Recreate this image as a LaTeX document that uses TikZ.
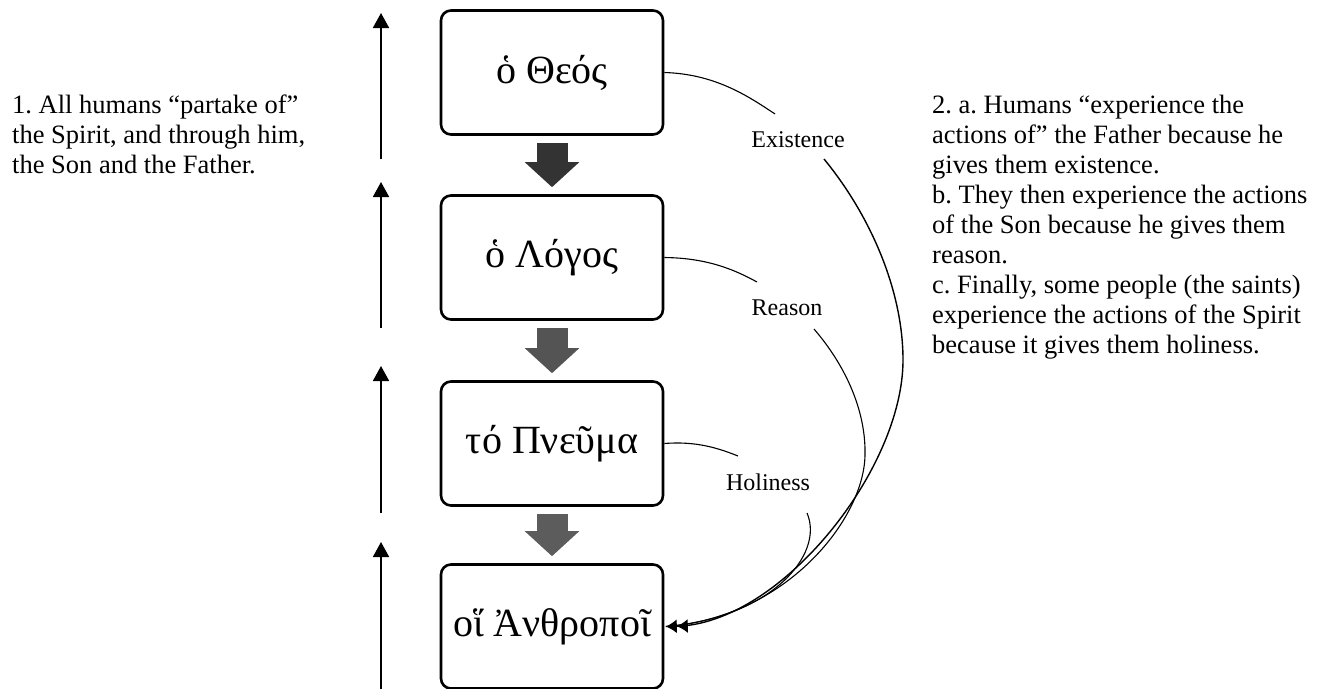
\documentclass[tikz,border=0pt]{standalone}
\usepackage{fontspec}
\setmainfont{Liberation Serif}
\frenchspacing
\usetikzlibrary{arrows.meta}
\definecolor{arrA}{gray}{0.2}
\definecolor{arrB}{gray}{0.33}
\definecolor{arrC}{gray}{0.36}
\tikzset{
  box/.style={draw, line width=2.6pt, rounded corners=10pt, minimum width=222pt, minimum height=124pt, inner sep=0pt, font=\fontsize{40}{44}\selectfont},
  blockarrow/.style={line width=31pt, -{Triangle[length=25pt,width=53pt]}},
  uparrow/.style={line width=1.8pt, -{Triangle[length=15pt,width=16pt]}},
  conn/.style={line width=1.1pt},
  lbl/.style={font=\fontsize{24}{28}\selectfont, inner sep=0pt},
  side/.style={font=\fontsize{26.5}{30}\selectfont\frenchspacing, align=left, inner sep=0pt, anchor=north west},
}
\begin{document}
\begin{tikzpicture}[x=1pt,y=-1pt]
\useasboundingbox (0,0) rectangle (1329,688);
% boxes
\node[box] (b1) at (552,72.5) {ὁ Θεός};
\node[box] (b2) at (552,257.5) {ὁ Λόγος};
\node[box] (b3) at (552,443.5) {τό Πνεῦμα};
\node[box] (b4) at (552,626.5) {οἵ Ἀνθροποῖ};
% block arrows
\draw[blockarrow, arrA] ([yshift=-7pt]b1.south) -- ([yshift=7pt]b2.north);
\draw[blockarrow, arrB] ([yshift=-7pt]b2.south) -- ([yshift=7pt]b3.north);
\draw[blockarrow, arrC] ([yshift=-7pt]b3.south) -- ([yshift=7pt]b4.north);
% left up arrows
\coordinate (u1a) at (381,159); \coordinate (u1b) at (381,13);
\coordinate (u2a) at (381,328); \coordinate (u2b) at (381,182);
\coordinate (u3a) at (381,513); \coordinate (u3b) at (381,366);
\coordinate (u4a) at (381,690); \coordinate (u4b) at (381,542);
\draw[uparrow] (u1a) -- (u1b);
\draw[uparrow] (u2a) -- (u2b);
\draw[uparrow] (u3a) -- (u3b);
\draw[uparrow] (u4a) -- (u4b);
% labels
\node[lbl] (ex) at (798,140) {Existence};
\node[lbl] (re) at (787,308) {Reason};
\node[lbl] (ho) at (768,482) {Holiness};
% connector end points
\coordinate (e1) at (775,114);
\coordinate (e2) at (824,159);
\coordinate (r1) at (757,282);
\coordinate (r2) at (814,329);
\coordinate (h1) at (738,456);
\coordinate (h2) at (807,513);
\coordinate (tip) at ([xshift=1.5pt]b4.east);
% short connectors
\draw[conn] (b1.east) .. controls (715,74) and (748,96) .. (e1);
\draw[conn] (b2.east) .. controls (708,258) and (735,270) .. (r1);
\draw[conn] (b3.east) .. controls (696,441) and (718,448) .. (h1);
% long curves
\draw[conn] (r2) .. controls (845,365) and (866,410) .. (865,455) .. controls (864,520) and (785,618) .. (tip);
\draw[conn] (h2) .. controls (825,555) and (770,618) .. (tip);
\draw[conn, line width=1.4pt, {Latex[length=11pt,width=14pt]Latex[length=11pt,width=14pt]}-] (tip) .. controls (780,624) and (903,470) .. (903,360) .. controls (903,290) and (870,215) .. (e2);
% side texts
\node[side] (lt) at (12,95) {1. All humans “partake of”\\the Spirit, and through him,\\the Son and the Father.};
\node[side] (rt) at (932,95) {2. a. Humans “experience the\\actions of” the Father because he\\gives them existence.\\b. They then experience the actions\\of the Son because he gives them\\reason.\\c. Finally, some people (the saints)\\experience the actions of the Spirit\\because it gives them holiness.};
\end{tikzpicture}
\end{document}
